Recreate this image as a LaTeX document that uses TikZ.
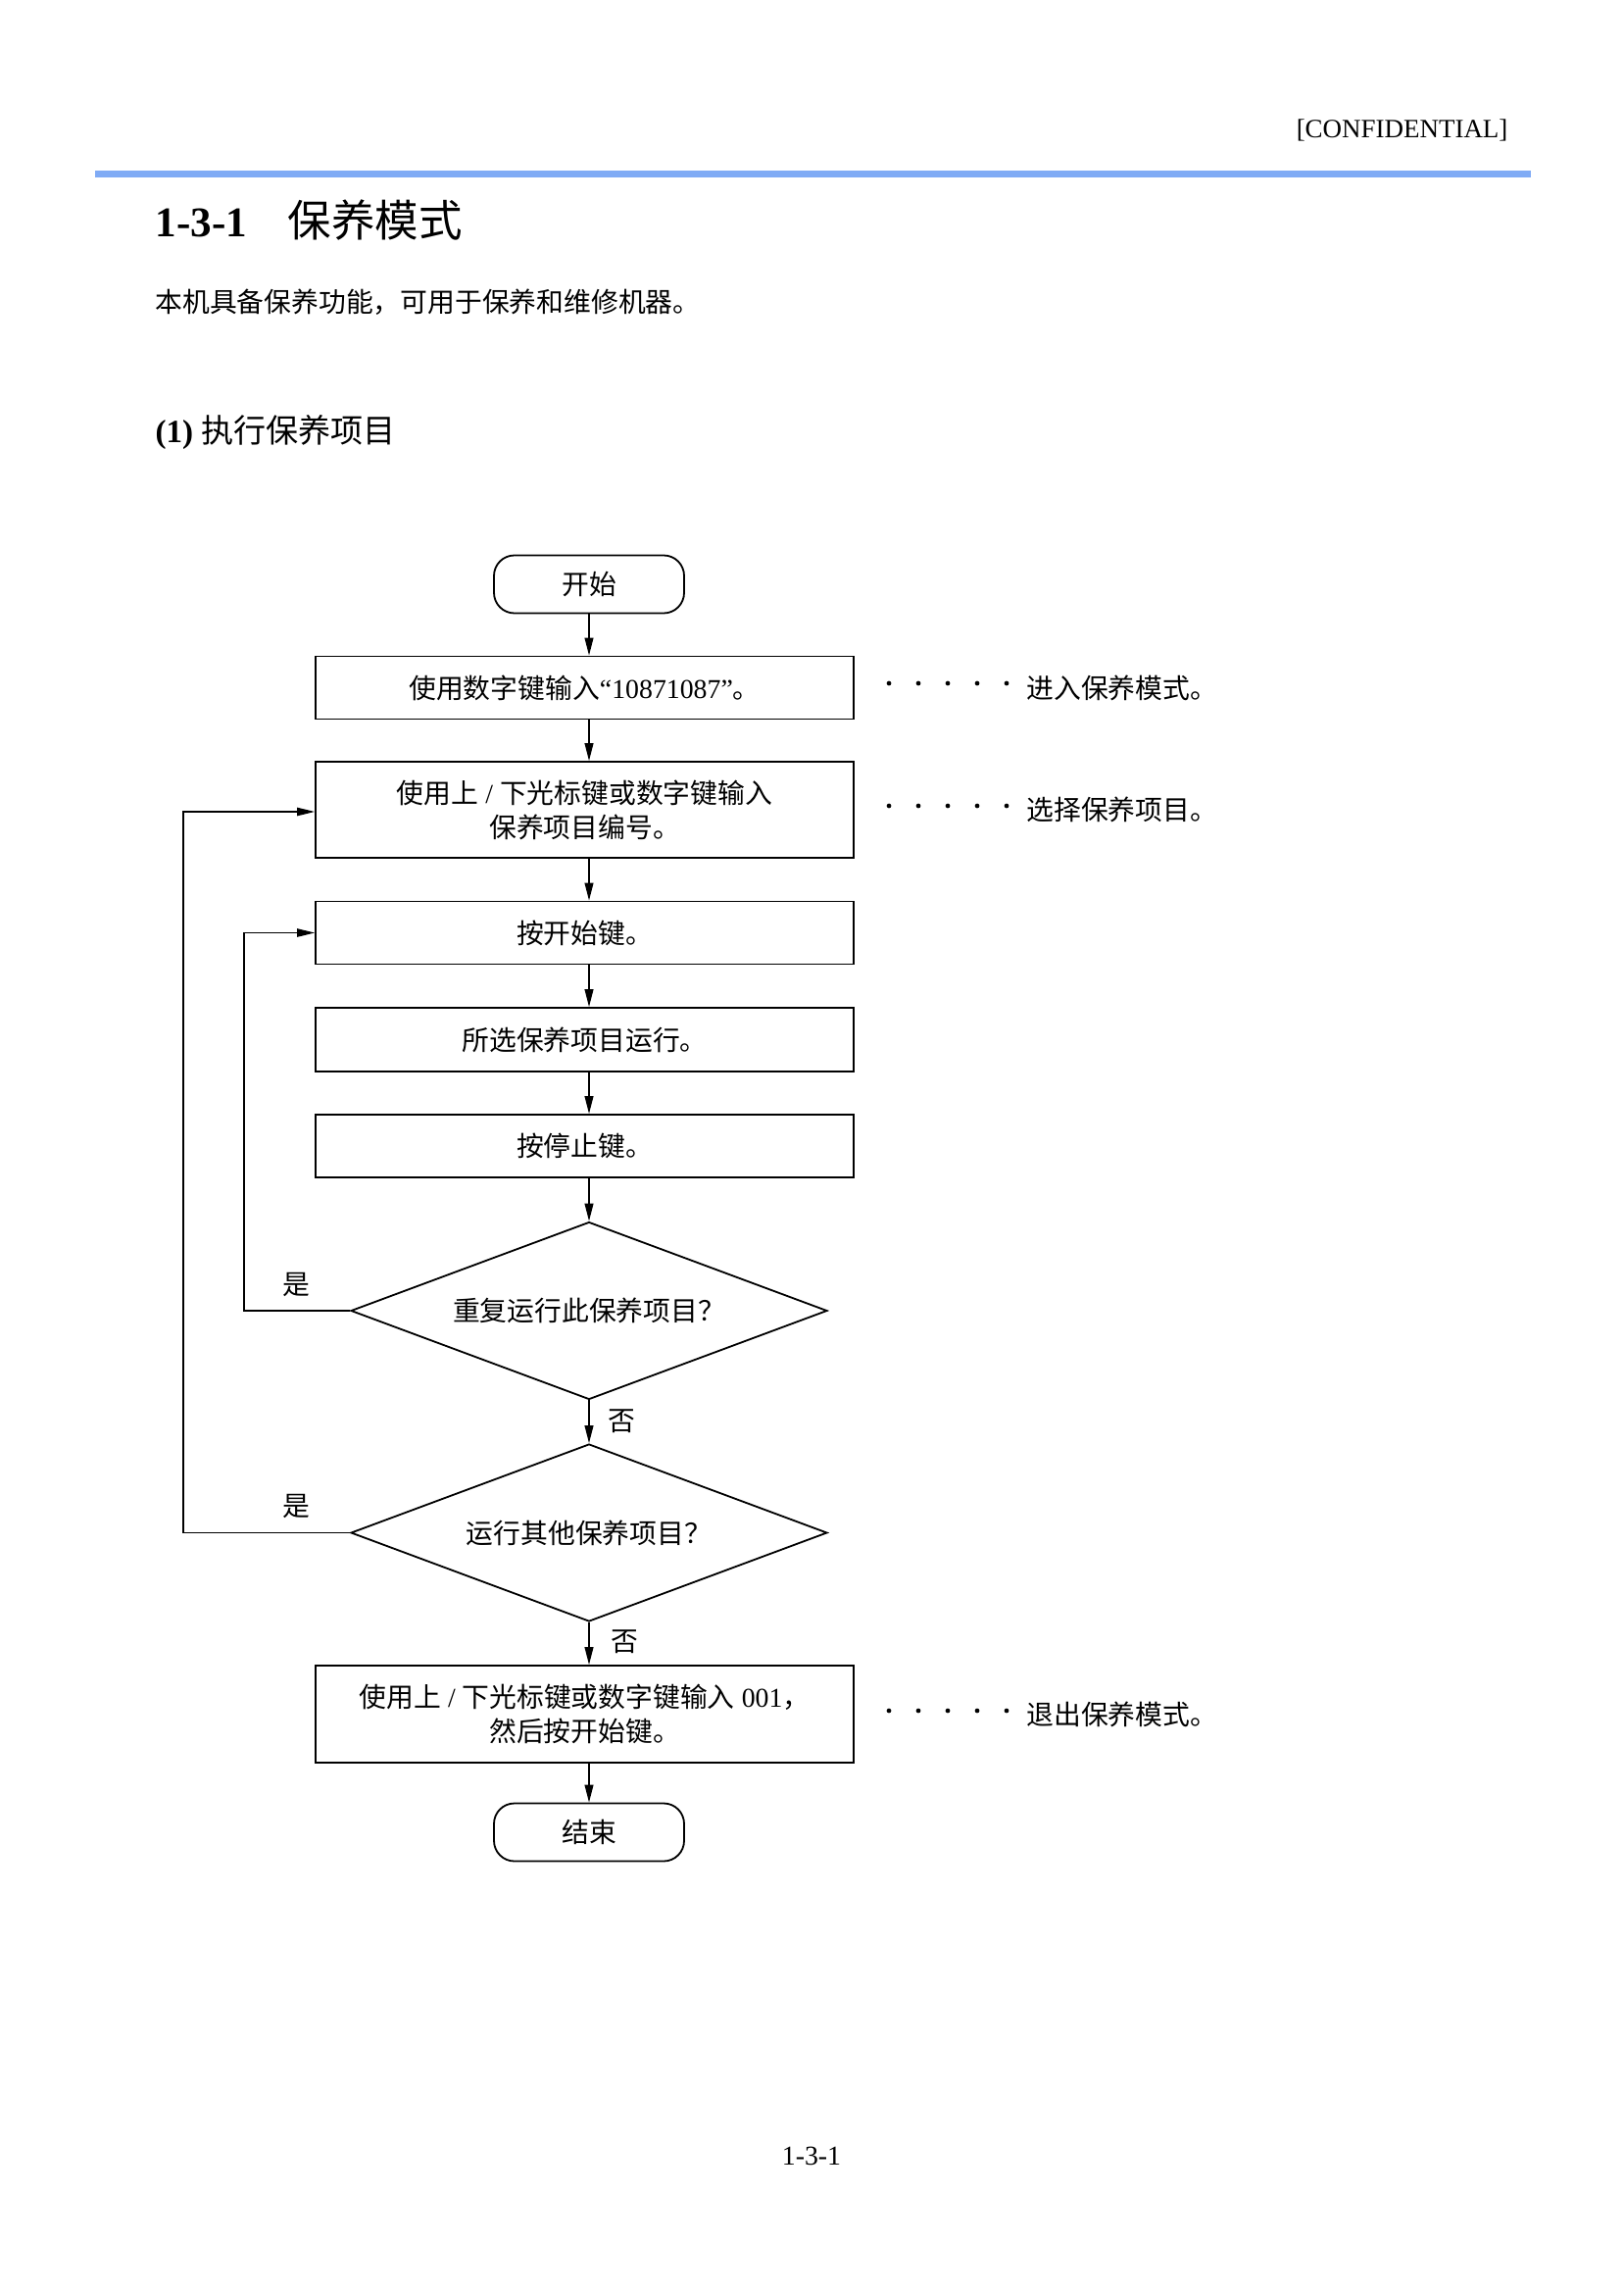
\documentclass[tikz,border=0pt]{standalone}
\usepackage{fontspec}
\setmainfont{Liberation Serif}
\newfontfamily\cjk{Noto Sans CJK SC}
\usetikzlibrary{shapes.geometric,arrows.meta,calc}
\definecolor{rulebl}{RGB}{128,171,245}
\def\PX{*0.3597pt}
\newcommand\bodyfont{\fontsize{10}{12.6}\selectfont\cjk}
\newcommand\lat[1]{{\rmfamily #1}}
\begin{document}
\begin{tikzpicture}[x=0.3597pt,y=-0.3597pt,
  box/.style={draw, line width=0.65pt, minimum width=549\PX, inner sep=0pt, align=center, font=\bodyfont},
  term/.style={draw, line width=0.65pt, rounded corners=7.5pt, minimum width=194\PX, minimum height=59\PX, inner sep=0pt, font=\bodyfont},
  decision/.style={draw, diamond, shape aspect=2.68, line width=0.65pt, minimum width=486\PX, minimum height=181\PX, inner sep=0pt, font=\bodyfont},
  conn/.style={line width=0.5pt, -{Triangle[length=6.5pt,width=3.2pt]}},
  loopl/.style={line width=0.6pt, -{Triangle[length=6.5pt,width=3pt]}},
  note/.style={anchor=west, inner sep=0pt, font=\bodyfont},
  lbl/.style={inner sep=0pt, font=\bodyfont}]
\fill[white] (0,0) rectangle (1656,2339);
\useasboundingbox (0,0) rectangle (1656,2339);

% header
\node[anchor=east, inner sep=0pt, font=\fontsize{9.7}{11}\selectfont] (conf) at (1539,133) {[CONFIDENTIAL]};
\fill[rulebl] (97,174) rectangle (1562,181);
\node[anchor=base west, inner sep=0pt, font=\fontsize{15.5}{18}\selectfont\bfseries] (title) at (158,242) {1-3-1\hspace{15pt}{\cjk\mdseries\fontsize{16}{18}\selectfont 保养模式}};
\node[anchor=west, inner sep=0pt, font=\fontsize{10}{12}\selectfont\cjk] (intro) at (158,308) {本机具备保养功能，可用于保养和维修机器。};
\node[anchor=west, inner sep=0pt, font=\fontsize{11.9}{14}\selectfont\bfseries] (sec) at (158,441) {(1) {\cjk\mdseries 执行保养项目}};

% flowchart
\node[term] (start) at (601,596) {开始};
\node[box, minimum height=64\PX] (b1) at (596.5,701.5) {使用数字键输入\lat{“10871087”}。};
\node[box, minimum height=98\PX] (b2) at (596.5,826) {使用上\lat{ / }下光标键或数字键输入\\保养项目编号。};
\node[box, minimum height=64\PX] (b3) at (596.5,951.5) {按开始键。};
\node[box, minimum height=65\PX] (b4) at (596.5,1060.5) {所选保养项目运行。};
\node[box, minimum height=64\PX] (b5) at (596.5,1169) {按停止键。};
\node[decision] (d1) at (601,1337) {重复运行此保养项目？};
\node[decision] (d2) at (601,1563.5) {运行其他保养项目？};
\node[box, minimum height=99\PX] (b6) at (596.5,1748.5) {使用上\lat{ / }下光标键或数字键输入\lat{ 001}，\\然后按开始键。};
\node[term] (end) at (601,1869) {结束};

\draw[conn] (start.south) -- (start.south |- b1.north);
\draw[conn] (start.south |- b1.south) -- (start.south |- b2.north);
\draw[conn] (start.south |- b2.south) -- (start.south |- b3.north);
\draw[conn] (start.south |- b3.south) -- (start.south |- b4.north);
\draw[conn] (start.south |- b4.south) -- (start.south |- b5.north);
\draw[conn] (start.south |- b5.south) -- (d1.north);
\draw[conn] (d1.south) -- (d2.north);
\draw[conn] (d2.south) -- (start.south |- b6.north);
\draw[conn] (start.south |- b6.south) -- (end.north);

\coordinate (xin) at (249,0);
\coordinate (xout) at (187,0);
\draw[loopl] (d1.west) -- (d1.west -| xin) |- (b3.west);
\draw[loopl] (d2.west) -- (d2.west -| xout) |- ($(b2.west)+(0,2)$);

\node[lbl] (yes1) at (302,1311) {是};
\node[lbl] (yes2) at (302,1537) {是};
\node[lbl] (no1) at (634,1450) {否};
\node[lbl] (no2) at (637,1675) {否};

% notes
\node[note] (n1) at (1047,701.5) {进入保养模式。};
\node[note] (n2) at (1047,826) {选择保养项目。};
\node[note] (n3) at (1047,1748.5) {退出保养模式。};
\foreach \yy in {697,822,1745}{
  \foreach \i in {0,...,4}{
    \fill ({907+30*\i},\yy) circle (0.85pt);
  }
}

% footer
\node[inner sep=0pt, font=\fontsize{10}{12}\selectfont] (foot) at (828,2199) {1-3-1};
\end{tikzpicture}
\end{document}
